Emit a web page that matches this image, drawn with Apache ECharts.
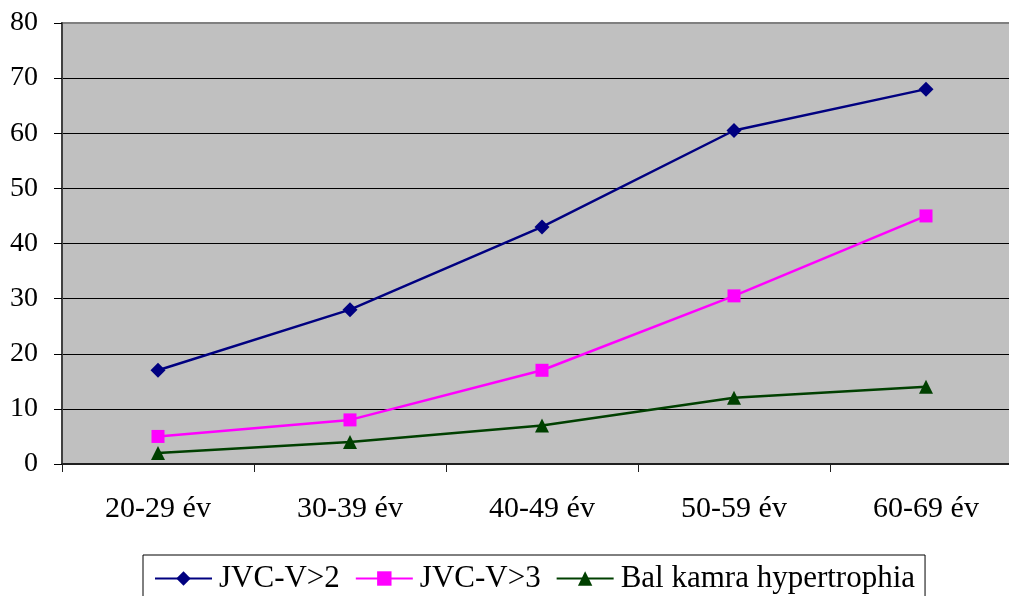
<!DOCTYPE html>
<html>
<head>
<meta charset="utf-8">
<script src="https://cdn.jsdelivr.net/npm/echarts@6/dist/echarts.min.js"></script>
<style>
  html, body { margin: 0; padding: 0; background: #fff; }
  #chart { width: 1009px; height: 596px; }
</style>
</head>
<body>
<div id="chart"></div>
<script>
// Age groups along the horizontal axis
const categories = ['20-29 év', '30-39 év', '40-49 év', '50-59 év', '60-69 év'];

// Prevalence per age group
const jvcV2 = [17, 28, 43, 60.5, 68];
const jvcV3 = [5, 8, 17, 30.5, 45];
const balKamra = [2, 4, 7, 12, 14];

const seriesNames = ['JVC-V>2', 'JVC-V>3', 'Bal kamra hypertrophia'];

const serif = '"Liberation Serif", "Times New Roman", serif';

const chart = echarts.init(document.getElementById('chart'));

chart.setOption({
  animation: false,
  backgroundColor: '#ffffff',
  grid: {
    left: 62,
    top: 23,
    width: 960,
    height: 441,
    outerBoundsMode: 'none',
    containLabel: false,
    show: true,
    backgroundColor: '#c0c0c0',
    borderColor: '#808080',
    borderWidth: 2
  },
  legend: {
    data: seriesNames,
    left: 143,
    top: 555,
    padding: [8, 10, 12, 11],
    itemGap: 15,
    itemWidth: 57,
    itemHeight: 18,
    lineStyle: { width: 2 },
    borderColor: '#000',
    borderWidth: 1,
    textStyle: { fontFamily: serif, fontSize: 31, color: '#000', padding: [0, 0, 0, 2] }
  },
  xAxis: {
    type: 'category',
    data: categories,
    boundaryGap: true,
    axisLine: { lineStyle: { color: '#202020', width: 2 } },
    axisTick: { show: true, length: 8, lineStyle: { color: '#202020', width: 1 } },
    axisLabel: { fontFamily: serif, fontSize: 30, color: '#000', margin: 30 },
    splitLine: { show: false }
  },
  yAxis: {
    type: 'value',
    min: 0,
    max: 80,
    interval: 10,
    axisLine: { show: true, lineStyle: { color: '#404040', width: 2 } },
    axisTick: { show: true, length: 8, lineStyle: { color: '#000', width: 1 } },
    axisLabel: { fontFamily: serif, fontSize: 28, color: '#000', margin: 24 },
    splitLine: { show: true, showMaxLine: false, lineStyle: { color: '#000', width: 1 } }
  },
  series: [
    {
      name: seriesNames[0],
      type: 'line',
      data: jvcV2,
      color: '#000080',
      symbol: 'diamond',
      symbolSize: 15,
      lineStyle: { width: 2.5 }
    },
    {
      name: seriesNames[1],
      type: 'line',
      data: jvcV3,
      color: '#ff00ff',
      symbol: 'rect',
      symbolSize: 13,
      lineStyle: { width: 2.5 }
    },
    {
      name: seriesNames[2],
      type: 'line',
      data: balKamra,
      color: '#004000',
      symbol: 'triangle',
      symbolSize: 14,
      lineStyle: { width: 2.5 }
    }
  ]
});
</script>
</body>
</html>
